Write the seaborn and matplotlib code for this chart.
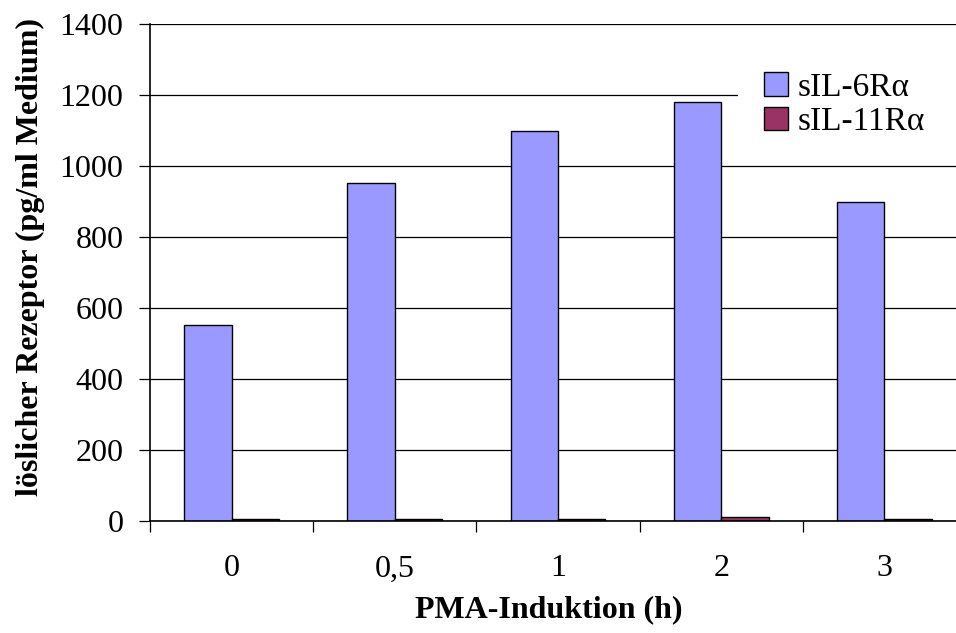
import matplotlib
matplotlib.use("Agg")
import matplotlib.pyplot as plt
from matplotlib.patches import Rectangle
import seaborn as sns
import pandas as pd

# Soluble receptor release after PMA induction
zeiten = ["0", "0,5", "1", "2", "3"]
sil6r = [552, 952, 1099, 1180, 898]
sil11r = [5, 5, 5, 10, 5]
serien = ["sIL-6Rα", "sIL-11Rα"]
farben = ["#9999FF", "#993366"]
y_ticks = [0, 200, 400, 600, 800, 1000, 1200, 1400]

df = pd.DataFrame({
    "PMA": zeiten * 2,
    "Wert": sil6r + sil11r,
    "Rezeptor": [serien[0]] * len(zeiten) + [serien[1]] * len(zeiten),
})

sns.set_theme(style="white", rc={
    "text.color": "black", "axes.labelcolor": "black",
    "xtick.color": "black", "ytick.color": "black",
})
plt.rcParams["font.family"] = ["Liberation Serif", "DejaVu Serif"]

W, H = 956, 633
fig = plt.figure(figsize=(W / 100, H / 100), dpi=100)
ax = fig.add_axes([150 / W, 1 - 521 / H, 816 / W, (521 - 24) / H])

sns.barplot(data=df, x="PMA", y="Wert", hue="Rezeptor", order=zeiten,
            hue_order=serien, palette=farben, width=0.58, saturation=1,
            edgecolor="black", linewidth=1.0, ax=ax, zorder=3)

ax.set_xlim(-0.5, len(zeiten) - 0.5)
ax.set_ylim(0, 1400)
ax.set_yticks(y_ticks)
ax.set_yticklabels([str(v) for v in y_ticks], fontsize=23)
ax.yaxis.grid(True, color="black", linewidth=0.9, zorder=0)
ax.xaxis.grid(False)

# category boundaries carry the tick marks, centers carry the labels
ax.set_xticks([i - 0.5 for i in range(len(zeiten) + 1)])
ax.set_xticklabels([])
ax.set_xticks(range(len(zeiten)), minor=True)
ax.set_xticklabels(zeiten, minor=True, fontsize=23)
ax.tick_params(axis="x", which="major", direction="out", length=8,
               width=0.9, bottom=True)
ax.tick_params(axis="x", which="minor", length=0, pad=24)
ax.tick_params(axis="y", direction="out", length=8, width=0.9,
               left=True, pad=11)

for side in ["top", "right"]:
    ax.spines[side].set_visible(False)
for side in ["left", "bottom"]:
    ax.spines[side].set_color("black")
    ax.spines[side].set_linewidth(1.2)
    ax.spines[side].set_zorder(4)

ax.set_xlabel("PMA-Induktion (h)", fontsize=23, fontweight="bold")
ax.xaxis.set_label_coords((549 - 150) / 816, (521 - 595) / 497)
ax.set_ylabel("löslicher Rezeptor (pg/ml Medium)", fontsize=23,
              fontweight="bold")
ax.yaxis.set_label_coords((45 - 150) / 816, (521 - 257) / 497)

# white legend area that interrupts the grid line behind it
ax.add_patch(Rectangle((738 / W, 1 - 150 / H), 0.3, 80 / H,
                       transform=fig.transFigure, facecolor="white",
                       edgecolor="none", zorder=4.5, clip_on=False))

handles, labels = ax.get_legend_handles_labels()
leg = ax.legend(handles, labels, loc="upper left",
                bbox_to_anchor=(764 / W, 1 - 72 / H),
                bbox_transform=fig.transFigure, borderaxespad=0,
                frameon=False, fontsize=24,
                handlelength=0.72, handleheight=0.72, handletextpad=0.3,
                labelspacing=0.12, borderpad=0)
leg.set_zorder(5)

fig.savefig("out.png", dpi=100)
